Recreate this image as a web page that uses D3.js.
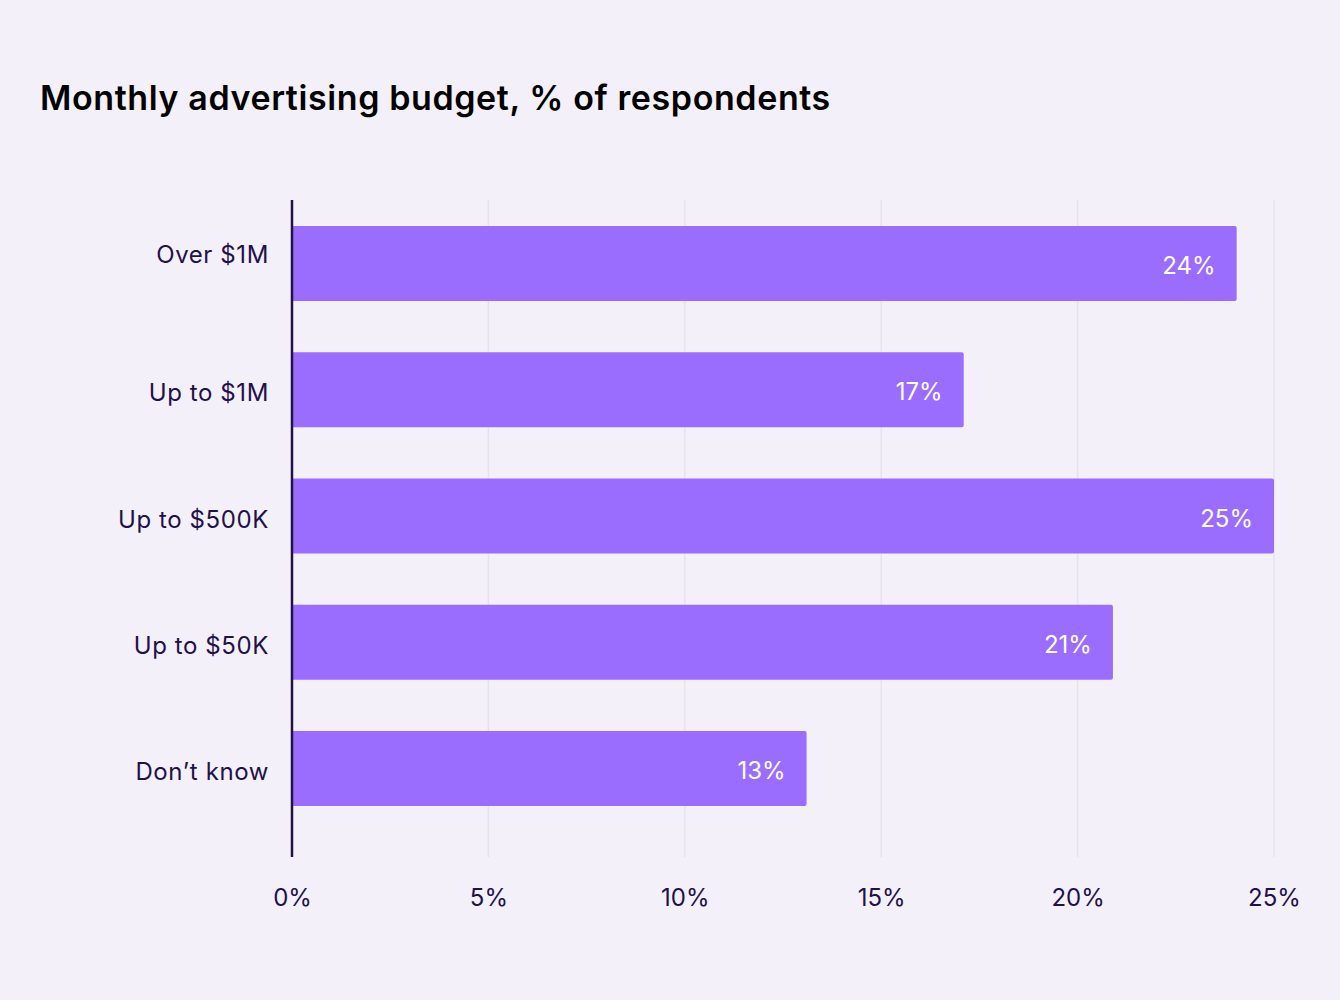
<!DOCTYPE html>
<html><head><meta charset="utf-8">
<script src="https://cdn.jsdelivr.net/npm/d3@7"></script>
<style>
html,body{margin:0;padding:0;background:#f3f0fa;}
svg{display:block;}
text{font-family:Inter, "Open Sans", sans-serif;}
</style></head>
<body>
<svg id="chart" width="1340" height="1000"></svg>
<script>
const title = "Monthly advertising budget, % of respondents";
const categories = ["Over $1M", "Up to $1M", "Up to $500K", "Up to $50K", "Don’t know"];
const values = [24.05, 17.1, 25.0, 20.9, 13.1];
const valueLabels = ["24%", "17%", "25%", "21%", "13%"];
const tickValues = [0, 5, 10, 15, 20, 25];
const tickLabels = ["0%", "5%", "10%", "15%", "20%", "25%"];

const svg = d3.select("#chart");
svg.append("rect").attr("width",1340).attr("height",1000).attr("fill","#f3f0fa");

const plotTop = 200, plotBottom = 857;
const x = d3.scaleLinear().domain([0,25]).range([292,1274]);
const y = d3.scaleBand().domain(categories).range([226,806]).paddingInner(0.406).paddingOuter(0);

svg.append("text").attr("x",40).attr("y",110)
  .attr("font-size",34).attr("font-weight",600).attr("fill","#000")
  .attr("letter-spacing","0.6").text(title);

// gridlines
svg.append("g").selectAll("line").data(tickValues.slice(1)).join("line")
  .attr("x1",d=>x(d)).attr("x2",d=>x(d)).attr("y1",plotTop).attr("y2",plotBottom)
  .attr("stroke","#e6e3e8").attr("stroke-width",1.5);

// bars
const data = categories.map((c,i)=>({c, v:values[i], l:valueLabels[i]}));
svg.append("g").selectAll("path").data(data).join("path")
  .attr("d", d=>{
    const x0 = x(0)+1, x1 = x(d.v), y0 = y(d.c), h = y.bandwidth(), r = 2;
    return `M${x0},${y0}H${x1-r}Q${x1},${y0} ${x1},${y0+r}V${y0+h-r}Q${x1},${y0+h} ${x1-r},${y0+h}H${x0}Z`;
  })
  .attr("fill","#9b6dff");

// value labels
svg.append("g").selectAll("text").data(data).join("text")
  .attr("x", d=>x(d.v)-21).attr("y", d=>y(d.c)+y.bandwidth()/2+2)
  .attr("text-anchor","end").attr("dominant-baseline","central")
  .attr("font-size",24).attr("fill","#ffffff").text(d=>d.l);

// category labels
svg.append("g").selectAll("text").data(data).join("text")
  .attr("x", 269).attr("y", (d,i)=>y(d.c)+y.bandwidth()/2 + (i===0 ? -9 : 3))
  .attr("text-anchor","end").attr("dominant-baseline","central")
  .attr("font-size",24).attr("letter-spacing","0.6").attr("fill","#22104a").text(d=>d.c);

// axis line
svg.append("line").attr("x1",x(0)).attr("x2",x(0)).attr("y1",plotTop).attr("y2",plotBottom)
  .attr("stroke","#22104a").attr("stroke-width",2.5);

// x tick labels
const xAxis = d3.axisBottom(x).tickValues(tickValues).tickFormat((d,i)=>tickLabels[i]).tickSize(0).tickPadding(0);
const gx = svg.append("g").attr("transform","translate(0,888)").call(xAxis);
gx.select(".domain").remove();
gx.selectAll("text").attr("font-size",24).attr("fill","#22104a")
  .attr("font-family","Inter, 'Open Sans', sans-serif").attr("dy","0.35em").attr("y",10);
</script>
</body></html>
